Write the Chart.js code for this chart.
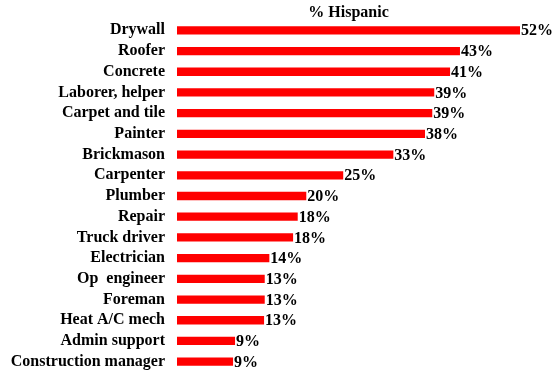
<!DOCTYPE html>
<html>
<head>
<meta charset="utf-8">
<script src="https://cdn.jsdelivr.net/npm/chart.js@4"></script>
<style>
  html, body { margin: 0; padding: 0; background: #fff; }
  #wrap { width: 558px; height: 376px; }
</style>
</head>
<body>
<div id="wrap"><canvas id="chart" width="558" height="376"></canvas></div>
<script>
// Dati
const occupations = ['Drywall', 'Roofer', 'Concrete', 'Laborer, helper', 'Carpet and tile', 'Painter',
  'Brickmason', 'Carpenter', 'Plumber', 'Repair', 'Truck driver', 'Electrician', 'Op  engineer',
  'Foreman', 'Heat A/C mech', 'Admin support', 'Construction manager'];
const hispanicPct = [52, 42.9, 41.4, 39, 38.7, 37.6, 32.8, 25.2, 19.6, 18.3, 17.6, 14, 13.3, 13.3, 13.2, 8.8, 8.5];
const pctLabels = ['52%', '43%', '41%', '39%', '39%', '38%', '33%', '25%', '20%', '18%', '18%', '14%', '13%', '13%', '13%', '9%', '9%'];
const chartTitle = '% Hispanic';

const FONT = '"Liberation Serif", "Times New Roman", serif';

// Etichette dei valori e titolo
const labelPlugin = {
  id: 'valueLabels',
  afterDatasetsDraw(chart) {
    const ctx = chart.ctx;
    const meta = chart.getDatasetMeta(0);
    ctx.save();
    ctx.fillStyle = '#000';
    ctx.font = 'bold 16px ' + FONT;
    ctx.textBaseline = 'middle';
    ctx.textAlign = 'left';
    meta.data.forEach((bar, i) => {
      ctx.fillText(pctLabels[i], bar.x + 1, bar.y + 1);
    });
    const area = chart.chartArea;
    ctx.textAlign = 'center';
    ctx.fillText(chartTitle, (area.left + area.right) / 2, 13);
    ctx.restore();
  }
};

new Chart(document.getElementById('chart'), {
  type: 'bar',
  data: {
    labels: occupations,
    datasets: [{
      data: hispanicPct,
      backgroundColor: '#ff0000',
      borderWidth: 0,
      barPercentage: 0.8,
      categoryPercentage: 0.5
    }]
  },
  options: {
    indexAxis: 'y',
    responsive: false,
    animation: false,
    layout: { padding: { top: 20, right: 38, bottom: 4, left: 0 } },
    plugins: {
      legend: { display: false },
      tooltip: { enabled: false }
    },
    scales: {
      x: {
        display: false,
        min: 0,
        max: 52
      },
      y: {
        afterFit(scale) {
          scale.width = 177;
          scale.paddingTop = 0;
          scale.paddingBottom = 0;
        },
        grid: { display: false, drawTicks: false },
        border: { display: false },
        ticks: {
          color: '#000',
          padding: 12,
          autoSkip: false,
          font: { family: FONT, size: 16, weight: 'bold' }
        }
      }
    }
  },
  plugins: [labelPlugin]
});
</script>
</body>
</html>
